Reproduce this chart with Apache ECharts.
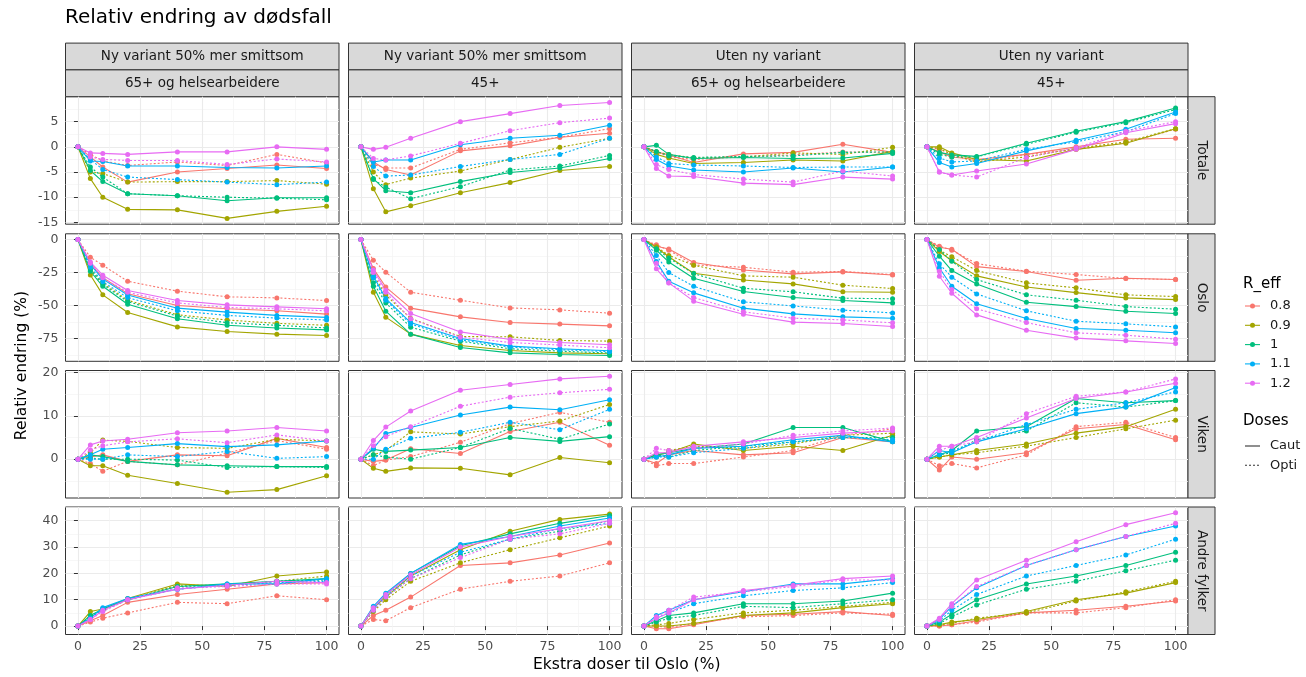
<!DOCTYPE html>
<html>
<head>
<meta charset="utf-8">
<script src="https://cdn.jsdelivr.net/npm/echarts@6.0.0/dist/echarts.min.js"></script>
<style>
  html, body { margin: 0; padding: 0; background: #fff; }
  #chart { width: 1306px; height: 677px; }
</style>
</head>
<body>
<div id="chart"></div>
<script>
// x positions (extra doses to Oslo, %)
const xValues = [0, 5, 10, 20, 40, 60, 80, 100];
const xTicks = [0, 25, 50, 75, 100];

const rEffLevels = ['0.8', '0.9', '1', '1.1', '1.2'];
const rEffColors = ['#F8766D', '#A3A500', '#00BF7D', '#00B0F6', '#E76BF3'];
const doseLevels = ['Caut', 'Opti'];

const colScenario = ['Ny variant 50% mer smittsom', 'Ny variant 50% mer smittsom', 'Uten ny variant', 'Uten ny variant'];
const colStrategy = ['65+ og helsearbeidere', '45+', '65+ og helsearbeidere', '45+'];
const rowRegion = ['Totale', 'Oslo', 'Viken', 'Andre fylker'];

const yTicksTotale = [-15, -10, -5, 0, 5];
const yTicksOslo = [-75, -50, -25, 0];
const yTicksViken = [0, 10, 20];
const yTicksAndre = [0, 10, 20, 30, 40];

// each panel: rows = 0.8 Caut, 0.8 Opti, 0.9 Caut, 0.9 Opti, 1 Caut, 1 Opti, 1.1 Caut, 1.1 Opti, 1.2 Caut, 1.2 Opti
const totale_ny65 = [
  [0, -2.0, -4.0, -7.0, -5.0, -4.3, -3.6, -4.3],
  [0, -1.5, -2.8, -3.7, -3.0, -3.7, -1.5, -3.2],
  [0, -6.3, -10.0, -12.4, -12.5, -14.2, -12.8, -11.8],
  [0, -5.0, -5.3, -7.0, -6.9, -6.9, -6.7, -7.4],
  [0, -4.7, -6.9, -9.3, -9.7, -10.7, -10.1, -10.1],
  [0, -4.0, -6.0, -9.3, -9.7, -10.0, -10.2, -10.5],
  [0, -2.8, -2.9, -3.8, -3.8, -4.1, -4.2, -3.8],
  [0, -2.5, -4.5, -6.0, -6.5, -7.0, -7.5, -7.0],
  [0, -1.2, -1.3, -1.5, -1.0, -1.0, 0, -0.5],
  [0, -2.0, -2.5, -2.7, -2.7, -3.5, -2.4, -3.0]
];
const totale_ny45 = [
  [0, -3.0, -4.5, -5.6, -0.8, 0.2, 1.9, 2.7],
  [0, -3.5, -4.2, -4.2, -0.5, 0.8, 1.9, 3.6],
  [0, -8.3, -12.9, -11.7, -9.1, -7.1, -4.7, -3.9],
  [0, -5.0, -7.5, -6.2, -4.8, -2.5, -0.1, 1.7],
  [0, -6.3, -8.7, -9.1, -6.9, -5.1, -4.2, -2.3],
  [0, -6.5, -8.0, -10.3, -7.9, -4.6, -3.8, -1.7],
  [0, -3.0, -2.6, -2.6, 0.4, 1.7, 2.3, 4.3],
  [0, -3.9, -5.8, -5.6, -3.9, -2.5, -1.5, 1.7],
  [0, -0.5, -0.1, 1.7, 5.0, 6.6, 8.2, 8.8],
  [0, -2.3, -2.6, -1.8, 0.7, 3.2, 4.8, 5.7]
];
const totale_uten65 = [
  [0, -1.0, -1.6, -3.1, -1.4, -1.1, 0.5, -1.1],
  [0, -1.0, -2.0, -2.5, -2.0, -1.6, -1.0, -1.1],
  [0, -1.5, -2.2, -3.3, -3.1, -2.6, -2.8, -0.9],
  [0, -1.0, -1.5, -2.2, -2.0, -1.2, -1.5, -0.1],
  [0, 0.3, -1.5, -2.3, -2.1, -2.3, -2.2, -1.3],
  [0, -0.9, -1.8, -2.1, -1.9, -1.8, -1.1, -1.0],
  [0, -2.5, -3.8, -4.6, -5.0, -4.2, -5.0, -4.0],
  [0, -2.0, -3.3, -3.6, -3.8, -4.1, -4.0, -4.0],
  [0, -4.3, -5.8, -5.9, -7.2, -7.5, -6.0, -6.4],
  [0, -3.5, -4.5, -5.5, -6.4, -7.0, -4.8, -5.8]
];
const totale_uten45 = [
  [0, -1.0, -2.0, -2.5, -1.5, 0, 1.5, 1.7],
  [0, -0.5, -1.5, -3.0, -1.5, -0.5, 0.8, 3.5],
  [0, 0, -1.2, -2.5, -2.8, -0.5, 0.7, 3.6],
  [0, -0.3, -1.5, -3.0, -2.0, -0.3, 1.0, 3.6],
  [0, -1.1, -1.6, -1.9, 0.7, 3.1, 5.0, 7.7],
  [0, -1.5, -2.0, -2.0, 0.5, 2.9, 4.8, 7.4],
  [0, -3.1, -4.0, -3.3, -0.8, 1.3, 3.5, 6.9],
  [0, -2.2, -3.0, -2.8, -0.5, 1.0, 3.0, 6.6],
  [0, -5.0, -5.6, -4.8, -3.4, -0.5, 2.8, 4.6],
  [0, -5.0, -5.6, -6.0, -2.1, -0.2, 3.1, 5.0]
];

const oslo_ny65 = [
  [0, -18, -29, -41, -50, -52.5, -54, -56.5],
  [0, -13.4, -19.4, -31.6, -39.1, -43.4, -44.2, -46.2],
  [0, -26.8, -41.9, -55.3, -66.2, -69.7, -71.7, -72.7],
  [0, -22, -33, -46, -57, -61, -63.5, -65],
  [0, -24, -35.4, -49, -60, -65, -67, -68.5],
  [0, -23, -34, -47, -58, -63, -65, -67],
  [0, -19, -30, -42, -52, -55, -57.5, -59],
  [0, -21, -32, -44, -54, -57.5, -59.5, -61],
  [0, -17, -27, -38.6, -46.2, -49.5, -51, -52.5],
  [0, -18, -29, -40, -48, -51.5, -52.5, -54]
];
const oslo_ny45 = [
  [0, -22, -36, -52, -58.6, -62.9, -64.1, -65.4],
  [0, -15.7, -24.7, -39.9, -46, -51.8, -53.3, -55.8],
  [0, -39.9, -58.8, -71.7, -80.3, -84.1, -85.9, -86.6],
  [0, -27, -42, -59.8, -73.5, -73.7, -76.5, -77],
  [0, -35.4, -54.3, -71.7, -81.8, -85.9, -87.1, -87.9],
  [0, -32.8, -48, -66.4, -77, -82.8, -84.6, -86],
  [0, -27.8, -44.7, -62.9, -75, -80.8, -82.8, -84.3],
  [0, -29, -46, -64, -76, -81.5, -83.5, -85],
  [0, -23, -38.4, -56.1, -70, -75.8, -78, -79.8],
  [0, -25, -40, -60, -74, -78, -80, -82]
];
const oslo_uten65 = [
  [0, -5.0, -7.1, -17.4, -23, -26, -24.5, -26.8],
  [0, -4, -8, -19.2, -21, -24.7, -24.2, -26.5],
  [0, -6, -13, -25.5, -30.6, -33.6, -39.6, -39.9],
  [0, -5.5, -12, -19.4, -27.5, -28.5, -34.6, -37.1],
  [0, -8, -17, -29.3, -39.4, -43.9, -46.2, -48],
  [0, -7, -14, -25.8, -36.9, -39.6, -44.4, -44.9],
  [0, -16.7, -31.6, -40.4, -52, -56.3, -58.6, -59.6],
  [0, -12, -25, -35.4, -47.2, -50.3, -53.5, -55.6],
  [0, -22.2, -32.8, -46.7, -56.6, -62.6, -63.6, -65.9],
  [0, -18, -33, -43.9, -54.8, -59.6, -60.9, -63.1]
];
const oslo_uten45 = [
  [0, -5.8, -7.3, -20.5, -24.2, -30.8, -29.3, -30.3],
  [0, -5, -8, -18.2, -24, -26.5, -29.5, -30.3],
  [0, -9, -16, -27.5, -35.9, -40.2, -44.2, -45.5],
  [0, -8, -13, -23.5, -32.8, -36.6, -41.9, -43.2],
  [0, -12.6, -23.5, -33.6, -47.5, -50.8, -54.3, -56.1],
  [0, -7.6, -16.4, -30.3, -41.9, -46, -50.8, -52.8],
  [0, -21.5, -35.4, -48.7, -59.8, -67.4, -68.7, -70.7],
  [0, -18.4, -28.5, -41.2, -54, -61.9, -63.9, -66.2],
  [0, -27.8, -40.7, -57.1, -68.7, -74.7, -76.8, -78.8],
  [0, -24, -37.9, -52.5, -62.9, -70.7, -72.5, -75.5]
];

const viken_ny65 = [
  [0, 0.5, 1.0, -0.5, 1.0, 0.8, 4.8, 2.7],
  [0, -1.0, -2.8, -0.5, -1.3, 1.4, 4.3, 2.3],
  [0, -1.5, -1.5, -3.7, -5.6, -7.6, -7.0, -3.8],
  [0, 1.5, 4.4, 4.1, 2.7, 2.5, 4.6, 4.2],
  [0, 1.0, 0.6, -0.5, -1.3, -1.5, -1.7, -1.7],
  [0, 0.3, 0, 0, -0.2, -1.9, -1.7, -1.9],
  [0, 1.0, 2.3, 2.7, 3.6, 2.9, 3.3, 4.2],
  [0, 0, 0, 1.0, 0.6, 1.8, 0.2, 0.6],
  [0, 3.3, 4.2, 4.6, 6.1, 6.5, 7.3, 6.5],
  [0, 2.1, 3.1, 4.0, 4.7, 3.8, 5.6, 4.2]
];
const viken_ny45 = [
  [0, -0.5, -0.2, 2.4, 1.3, 6.4, 8.5, 3.2],
  [0, -1.5, -0.2, 0.6, 3.9, 8.2, 10.8, 8.5],
  [0, -2.1, -2.8, -2.0, -2.1, -3.6, 0.4, -0.8],
  [0, 1.0, 2.0, 6.3, 5.8, 7.5, 8.8, 12.6],
  [0, 2.3, 1.8, 2.1, 2.7, 5.0, 4.1, 5.2],
  [0, 1.0, 0.5, 0, 2.7, 7.1, 4.6, 8.1],
  [0, 2.5, 5.9, 7.3, 10.2, 12.0, 11.4, 13.7],
  [0, 0, 2.3, 4.8, 6.2, 8.5, 6.8, 11.5],
  [0, 4.3, 7.4, 11.1, 15.9, 17.2, 18.5, 19.1],
  [0, 3.1, 5.2, 7.5, 12.2, 14.3, 15.3, 16.1]
];
const viken_uten65 = [
  [0, -1.0, 1.0, 2.0, 1.0, 1.5, 5.0, 4.0],
  [0, -1.5, -1.0, -1.0, 0.5, 2.0, 5.5, 7.0],
  [0, 1.0, 1.5, 3.5, 2.0, 3.0, 2.0, 5.5],
  [0, 0.5, 2.0, 3.0, 2.5, 3.5, 5.5, 6.0],
  [0, 1.0, 1.5, 2.5, 3.5, 7.3, 7.3, 4.0],
  [0, 1.0, 0.5, 2.0, 3.0, 4.0, 5.0, 5.0],
  [0, 0.5, 1.0, 2.5, 3.0, 4.5, 5.5, 4.0],
  [0, 0.5, 0.5, 1.5, 2.5, 4.0, 5.0, 4.5],
  [0, 1.5, 1.5, 3.0, 4.0, 5.0, 6.0, 6.5],
  [0, 2.5, 2.0, 2.5, 3.5, 5.5, 6.5, 7.2]
];
const viken_uten45 = [
  [0, -2.5, 0.5, 0, 1.5, 7, 8, 4.5],
  [0, -1.5, -1, -2, 1, 7.5, 8.5, 5],
  [0, 0.5, 1, 2, 3.5, 6, 7.5, 11.5],
  [0, 0.5, 1, 1.5, 3, 5, 7, 9],
  [0, 1, 2, 6.5, 7.5, 14, 13, 13.5],
  [0, 1, 1.5, 4.5, 6.5, 13, 12, 13.5],
  [0, 2, 1.5, 4, 7, 10.5, 12, 16.5],
  [0, 1, 2, 4, 8, 11.5, 13, 15.5],
  [0, 3, 3, 5, 9.5, 14, 15.5, 17.5],
  [0, 2, 3, 4, 10.5, 14.5, 15.5, 18.5]
];

const andre_ny65 = [
  [0, 2, 4, 9, 12, 14, 16, 16.5],
  [0, 1.5, 3, 5, 9, 8.5, 11.5, 10],
  [0, 5.5, 6.5, 10.5, 16, 15, 19, 20.5],
  [0, 4, 6, 10, 15.5, 15.5, 17, 19],
  [0, 4, 6.5, 10, 15, 16, 17, 18],
  [0, 3.5, 6, 10, 15, 15.5, 17, 17.5],
  [0, 3, 7, 10.5, 14, 16, 16, 18],
  [0, 3, 6.5, 10, 14, 15.5, 16.5, 17],
  [0, 2.5, 6, 10, 14, 15.5, 17, 16.5],
  [0, 2.5, 5.5, 10, 14.5, 15, 16, 16]
];
const andre_ny45 = [
  [0, 4, 6, 11, 23, 24, 27, 31.5],
  [0, 2.5, 2, 7, 14, 17, 19, 24],
  [0, 7, 11, 19, 29, 36, 40.5, 42.5],
  [0, 5.5, 10, 17, 24, 29, 33.5, 38],
  [0, 7, 12, 20, 30.5, 35, 39, 42],
  [0, 6, 11, 18, 27, 33, 36, 40],
  [0, 7.5, 12.5, 20, 31, 34, 38, 41],
  [0, 6.5, 11.5, 19, 28, 33, 37, 39],
  [0, 7, 12, 19.5, 30, 34, 37, 40],
  [0, 6, 11, 18, 26, 33, 35, 39]
];
const andre_uten65 = [
  [0, -1, -1, 0.5, 4, 4.5, 5.5, 4],
  [0, 0, -0.5, 1, 3.5, 4, 5, 4.5],
  [0, 0, 0, 1, 4, 5, 7, 8.5],
  [0, 0.5, 1, 2.5, 5, 6, 7.5, 9],
  [0, 2, 4, 5, 8.5, 8.5, 9.5, 12.5],
  [0, 1.5, 3, 4, 7.5, 7, 8.5, 10],
  [0, 4, 6, 10, 13, 16, 16, 18],
  [0, 3, 5, 8.5, 11.5, 13.5, 14.5, 16.5],
  [0, 3, 5, 10, 13.5, 15.5, 18, 19],
  [0, 3.5, 6, 11, 13, 15, 17.5, 17.5]
];
const andre_uten45 = [
  [0, 0, 0.5, 2, 5, 6, 7.5, 9.5],
  [0, 0, 0.5, 1.5, 5, 5, 7, 10],
  [0, 0.5, 1.5, 2.5, 5.5, 10, 12.5, 16.5],
  [0, 0.5, 1, 3, 5, 9.5, 13, 17],
  [0, 1.5, 4.5, 10, 16, 19, 23, 28],
  [0, 1, 3.5, 8, 14, 17, 21, 25],
  [0, 2.5, 7.5, 14.5, 23, 29, 34, 38],
  [0, 2, 6, 12, 19, 23, 27, 33],
  [0, 3, 8.5, 17.5, 25, 32, 38.5, 43],
  [0, 2.5, 7.5, 15, 23, 29, 34, 39]
];

const panelData = [
  [totale_ny65, totale_ny45, totale_uten65, totale_uten45],
  [oslo_ny65, oslo_ny45, oslo_uten65, oslo_uten45],
  [viken_ny65, viken_ny45, viken_uten65, viken_uten45],
  [andre_ny65, andre_ny45, andre_uten65, andre_uten45]
];
const rowTicks = [yTicksTotale, yTicksOslo, yTicksViken, yTicksAndre];

// layout
const FONT = 'DejaVu Sans';
const colLeft = [65.5, 348.5, 631.5, 914.5];
const rowTop = [96.7, 233.8, 370.5, 507];
const panelW = 273.5;
const panelH = 127.5;
const stripH = 26.8;
const stripW = 27;

function expand(lo, hi) {
  const d = (hi - lo) * 0.05;
  return [lo - d, hi + d];
}
function minorOf(ticks, lo, hi) {
  const step = ticks[1] - ticks[0];
  const out = [];
  for (let v = ticks[0] - step / 2; v <= ticks[ticks.length - 1] + step; v += step) {
    if (v > lo && v < hi) out.push(v);
  }
  return out;
}

const xRange = expand(Math.min(...xValues), Math.max(...xValues));
const xMinor = minorOf(xTicks, xRange[0], xRange[1]);

const grids = [], xAxes = [], yAxes = [], series = [];

for (let r = 0; r < 4; r++) {
  let lo = Infinity, hi = -Infinity;
  panelData[r].forEach(p => p.forEach(s => s.forEach(v => { lo = Math.min(lo, v); hi = Math.max(hi, v); })));
  const yRange = expand(lo, hi);
  const yMinor = minorOf(rowTicks[r], yRange[0], yRange[1]);

  for (let c = 0; c < 4; c++) {
    const g = grids.length;
    grids.push({
      left: colLeft[c], top: rowTop[r], width: panelW, height: panelH,
      show: true, backgroundColor: '#fff', borderColor: '#333', borderWidth: 1,
      containLabel: false, outerBoundsMode: 'none'
    });
    const showX = r === 3, showY = c === 0;
    xAxes.push({
      type: 'value', gridIndex: g, min: xRange[0], max: xRange[1],
      axisLine: { show: false },
      axisTick: { show: showX, length: 4, lineStyle: { color: '#333' }, customValues: xTicks },
      axisLabel: { show: showX, customValues: xTicks, color: '#4D4D4D', fontSize: 12.5, fontFamily: FONT, margin: 6 },
      splitLine: { show: true, lineStyle: { color: '#EBEBEB', width: 1.1 } }
    });
    xAxes.push({
      type: 'value', gridIndex: g, min: xRange[0], max: xRange[1], position: 'top',
      axisLine: { show: false },
      axisTick: { show: false, customValues: xMinor },
      axisLabel: { show: false, customValues: xMinor },
      splitLine: { show: true, lineStyle: { color: '#F4F4F4', width: 0.7 } }
    });
    yAxes.push({
      type: 'value', gridIndex: g, min: yRange[0], max: yRange[1],
      axisLine: { show: false },
      axisTick: { show: showY, length: 4, lineStyle: { color: '#333' }, customValues: rowTicks[r] },
      axisLabel: { show: showY, customValues: rowTicks[r], color: '#4D4D4D', fontSize: 12.5, fontFamily: FONT, margin: 7 },
      splitLine: { show: true, lineStyle: { color: '#EBEBEB', width: 1.1 } }
    });
    yAxes.push({
      type: 'value', gridIndex: g, min: yRange[0], max: yRange[1], position: 'right',
      axisLine: { show: false },
      axisTick: { show: false, customValues: yMinor },
      axisLabel: { show: false, customValues: yMinor },
      splitLine: { show: true, lineStyle: { color: '#F4F4F4', width: 0.7 } }
    });

    panelData[r][c].forEach((vals, k) => {
      const ri = Math.floor(k / 2), di = k % 2;
      series.push({
        type: 'line',
        name: rEffLevels[ri] + ' ' + doseLevels[di],
        xAxisIndex: 2 * g, yAxisIndex: 2 * g,
        data: xValues.map((x, i) => [x, vals[i]]),
        symbol: 'circle', symbolSize: 5, showSymbol: true,
        itemStyle: { color: rEffColors[ri] },
        lineStyle: { color: rEffColors[ri], width: 1.1, type: di === 1 ? [2, 2] : 'solid' },
        emphasis: { disabled: true },
        silent: true
      });
    });
  }
}

// strips, titles, legend
const graphic = [];
graphic.push({
  type: 'text', left: 65, top: 8,
  style: { text: 'Relativ endring av dødsfall', font: '20px "' + FONT + '"', fill: '#000' }
});
for (let c = 0; c < 4; c++) {
  [colScenario[c], colStrategy[c]].forEach((label, j) => {
    const y0 = rowTop[0] - stripH * (2 - j);
    graphic.push({
      type: 'rect', shape: { x: colLeft[c], y: y0, width: panelW, height: stripH },
      style: { fill: '#D9D9D9', stroke: '#333', lineWidth: 1 }
    });
    graphic.push({
      type: 'text', x: colLeft[c] + panelW / 2, y: y0 + stripH / 2,
      style: { text: label, font: '13.5px "' + FONT + '"', fill: '#1A1A1A', textAlign: 'center', textVerticalAlign: 'middle' }
    });
  });
}
const right = colLeft[3] + panelW;
for (let r = 0; r < 4; r++) {
  graphic.push({
    type: 'rect', shape: { x: right, y: rowTop[r], width: stripW, height: panelH },
    style: { fill: '#D9D9D9', stroke: '#333', lineWidth: 1 }
  });
  graphic.push({
    type: 'text', x: right + stripW / 2, y: rowTop[r] + panelH / 2, rotation: -Math.PI / 2,
    style: { text: rowRegion[r], font: '13.5px "' + FONT + '"', fill: '#1A1A1A', textAlign: 'center', textVerticalAlign: 'middle' }
  });
}
graphic.push({
  type: 'text', x: (colLeft[0] + right) / 2, y: 665,
  style: { text: 'Ekstra doser til Oslo (%)', font: '15.5px "' + FONT + '"', fill: '#000', textAlign: 'center', textVerticalAlign: 'middle' }
});
graphic.push({
  type: 'text', x: 22, y: (rowTop[0] + rowTop[3] + panelH) / 2, rotation: Math.PI / 2,
  style: { text: 'Relativ endring (%)', font: '15.5px "' + FONT + '"', fill: '#000', textAlign: 'center', textVerticalAlign: 'middle' }
});

// legend
const legX = 1243;
graphic.push({
  type: 'text', x: legX, y: 284,
  style: { text: 'R_eff', font: '15px "' + FONT + '"', fill: '#000', textVerticalAlign: 'middle' }
});
rEffLevels.forEach((lab, i) => {
  const y = 306 + i * 19.3;
  graphic.push({ type: 'line', shape: { x1: legX + 2, y1: y, x2: legX + 17, y2: y }, style: { stroke: rEffColors[i], lineWidth: 1.1 } });
  graphic.push({ type: 'circle', shape: { cx: legX + 9.5, cy: y, r: 2.5 }, style: { fill: rEffColors[i] } });
  graphic.push({
    type: 'text', x: legX + 27, y: y,
    style: { text: lab, font: '13px "' + FONT + '"', fill: '#1A1A1A', textVerticalAlign: 'middle' }
  });
});
graphic.push({
  type: 'text', x: legX, y: 421,
  style: { text: 'Doses', font: '15px "' + FONT + '"', fill: '#000', textVerticalAlign: 'middle' }
});
doseLevels.forEach((lab, i) => {
  const y = 446 + i * 19.3;
  graphic.push({
    type: 'line', shape: { x1: legX + 2, y1: y, x2: legX + 17, y2: y },
    style: { stroke: '#333', lineWidth: 1.1, lineDash: i === 1 ? [2, 2] : null }
  });
  graphic.push({
    type: 'text', x: legX + 27, y: y,
    style: { text: lab, font: '13px "' + FONT + '"', fill: '#1A1A1A', textVerticalAlign: 'middle' }
  });
});

const chart = echarts.init(document.getElementById('chart'));
chart.setOption({
  animation: false,
  backgroundColor: '#fff',
  grid: grids,
  xAxis: xAxes,
  yAxis: yAxes,
  series: series,
  graphic: graphic
});
</script>
</body>
</html>
